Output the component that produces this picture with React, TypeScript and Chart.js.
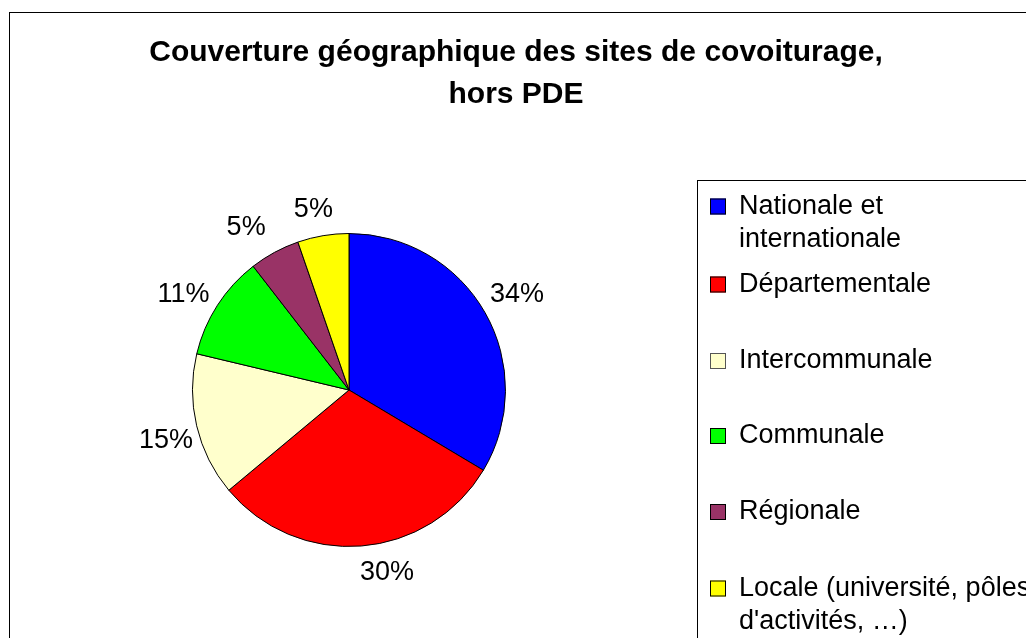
import React, { useEffect, useRef } from "react";
import { Chart, registerables } from "chart.js";

Chart.register(...registerables);

const titleLines = ["Couverture géographique des sites de covoiturage,", "hors PDE"];
const categories = [
  "Nationale et internationale",
  "Départementale",
  "Intercommunale",
  "Communale",
  "Régionale",
  "Locale (université, pôles d'activités, …)",
];
const legendLines = [
  ["Nationale et", "internationale"],
  ["Départementale"],
  ["Intercommunale"],
  ["Communale"],
  ["Régionale"],
  ["Locale (université, pôles", "d'activités, …)"],
];
const shares = [33.6, 30.4, 14.8, 10.8, 5.2, 5.3];
const sliceColors = ["#0000FF", "#FF0000", "#FFFFCC", "#00FF00", "#993366", "#FFFF00"];

const FONT = '"Liberation Sans", Arial, sans-serif';

// layout-only tweaks for label placement (Excel "best fit" style)
const LABEL_NUDGE = [
  [2, -1],
  [23, -8],
  [3, 7],
  [-5, 8],
  [-12, 6],
  [-4, 8],
];
const LEGEND_ROW_Y = [206.5, 284.5, 361, 436, 512, 588.5];

const decorPlugin = {
  id: "decor",
  beforeDraw(chart: any) {
    const ctx = chart.ctx;
    ctx.save();
    ctx.fillStyle = "#FFFFFF";
    ctx.fillRect(0, 0, chart.width, chart.height);
    ctx.restore();
  },
  afterDraw(chart: any) {
    const ctx = chart.ctx;
    ctx.save();
    ctx.strokeStyle = "#000000";
    ctx.lineWidth = 1;
    ctx.strokeRect(9.5, 12.5, 1100, 700);

    ctx.fillStyle = "#000000";
    ctx.font = `bold 30px ${FONT}`;
    ctx.textAlign = "center";
    ctx.textBaseline = "middle";
    ctx.fillText(titleLines[0], 516, 53);
    ctx.fillText(titleLines[1], 516, 95);

    const meta = chart.getDatasetMeta(0);
    const data = chart.data.datasets[0].data as number[];
    const total = data.reduce((a, b) => a + b, 0);
    ctx.font = `27px ${FONT}`;
    meta.data.forEach((arc: any, i: number) => {
      const p = arc.getProps(["x", "y", "startAngle", "endAngle", "outerRadius"], true);
      const mid = (p.startAngle + p.endAngle) / 2;
      const r = p.outerRadius + 34.5;
      const x = p.x + Math.cos(mid) * r + LABEL_NUDGE[i][0];
      const y = p.y + Math.sin(mid) * r + LABEL_NUDGE[i][1];
      ctx.fillText(Math.round((data[i] / total) * 100) + "%", x, y);
    });

    ctx.strokeRect(697.5, 180.5, 500, 600);
    ctx.textAlign = "left";
    ctx.font = `27px ${FONT}`;
    legendLines.forEach((lines, i) => {
      const yc = LEGEND_ROW_Y[i];
      ctx.fillStyle = sliceColors[i];
      ctx.fillRect(710, yc - 8, 16, 16);
      ctx.strokeStyle = i === 2 ? "#555555" : "#000000";
      ctx.strokeRect(710.5, yc - 7.5, 15, 15);
      ctx.fillStyle = "#000000";
      lines.forEach((line, j) => {
        ctx.fillText(line, 739, yc + j * 33);
      });
    });
    ctx.restore();
  },
};

export default function App() {
  const ref = useRef<HTMLCanvasElement>(null);
  useEffect(() => {
    if (!ref.current) return;
    const chart = new Chart(ref.current, {
      type: "pie",
      data: {
        labels: categories,
        datasets: [
          {
            data: shares,
            backgroundColor: sliceColors,
            borderColor: "#000000",
            borderWidth: 1,
          },
        ],
      },
      options: {
        responsive: false,
        animation: false,
        layout: { padding: { left: 192, right: 520, top: 233, bottom: 91 } },
        plugins: {
          legend: { display: false },
          title: { display: false },
          tooltip: { enabled: false },
        },
      },
      plugins: [decorPlugin],
    });
    return () => chart.destroy();
  }, []);
  return (
    <div style={{ position: "absolute", left: 0, top: 0, width: 1026, height: 638, overflow: "hidden" }}>
      <canvas ref={ref} width={1026} height={638} style={{ display: "block" }} />
    </div>
  );
}
